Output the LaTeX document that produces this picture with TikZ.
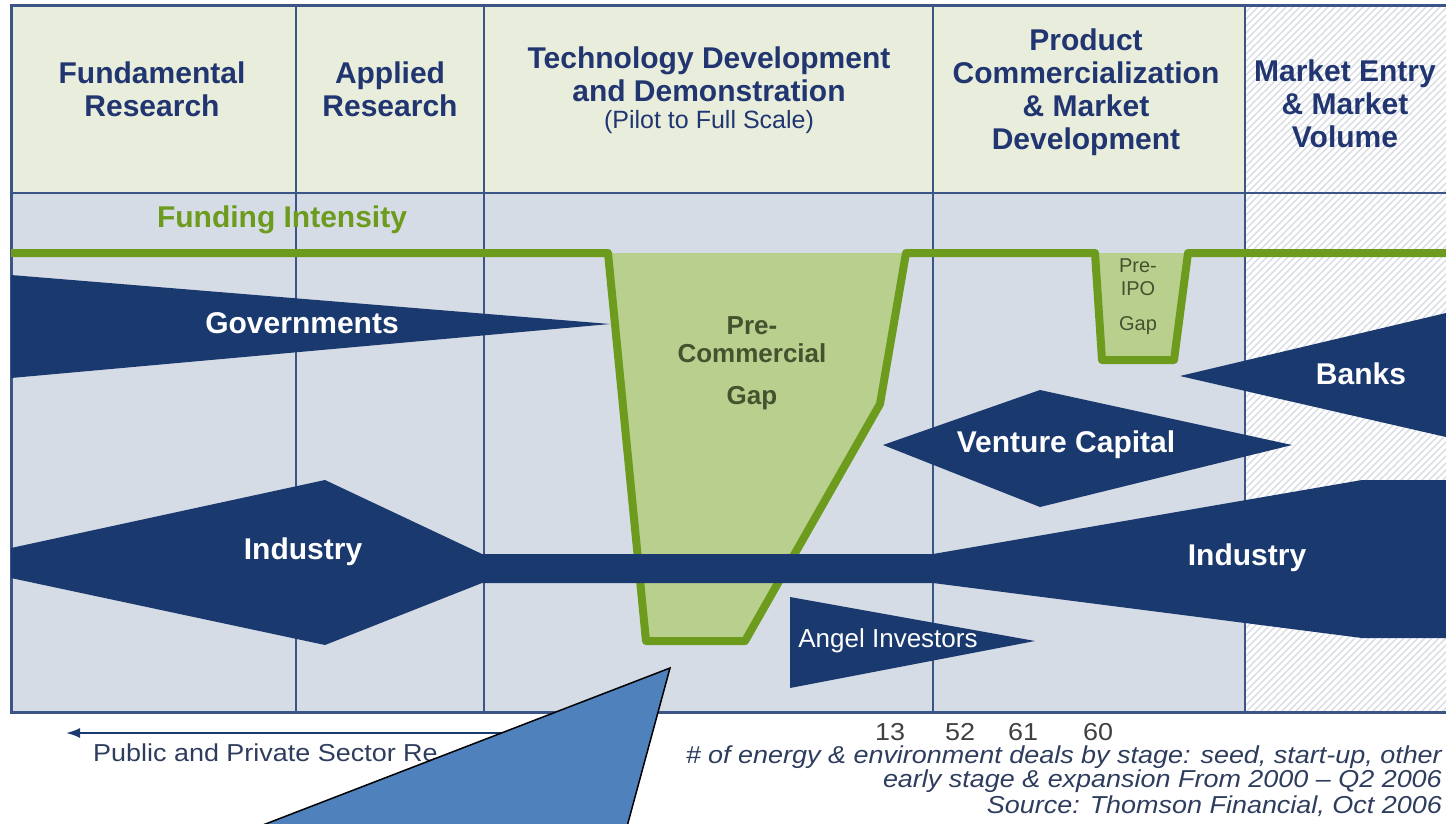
\documentclass[tikz,border=0pt]{standalone}
\usepackage{fontspec}
\setmainfont{Liberation Sans}
\newfontfamily\widefont[FakeStretch=1.1]{Liberation Sans}
\usetikzlibrary{arrows.meta}

\definecolor{headbg}{HTML}{E9EDDB}
\definecolor{bodybg}{HTML}{D6DCE6}
\definecolor{gridblue}{HTML}{3B5686}
\definecolor{navy}{HTML}{1A396E}
\definecolor{gapgreen}{HTML}{6C9B1E}
\definecolor{gapfill}{HTML}{B9CF8E}
\definecolor{gaptext}{HTML}{44522E}
\definecolor{headtext}{HTML}{213670}
\definecolor{foottext}{HTML}{2E3D5E}
\definecolor{callout}{HTML}{4F81BD}
\definecolor{hatch}{HTML}{D5D9E0}

\begin{document}
\begin{tikzpicture}[x=1pt, y=-1pt,
    divider/.style={gridblue, line width=2pt},
    head/.style={text=headtext, align=center, font=\fontsize{30}{33}\selectfont\bfseries},
    flowlabel/.style={text=white, font=\fontsize{30}{33}\selectfont\bfseries},
    gaplabel/.style={text=gaptext, align=center},
    bottomtext/.style={text=foottext, inner sep=0pt, font=\widefont\fontsize{24.5}{26}\selectfont},
    footnote/.style={bottomtext, anchor=east, font=\widefont\fontsize{24.5}{26}\selectfont\itshape}]
  \useasboundingbox (0,0) rectangle (1446,823);
  % backgrounds
  \fill[headbg] (11,5) rectangle (1245,193);
  \fill[bodybg] (11,193) rectangle (1245,712);
  \begin{scope}
    \clip (1245,5) rectangle (1446,712);
    \fill[white] (1245,5) rectangle (1446,712);
    \foreach \k in {525,532,...,1446}
      \draw[hatch, line width=1.2pt] (\k,712) -- ++(720,-720);
  \end{scope}
  % grid
  \foreach \xx in {296,484,933,1245}
    \draw[divider] (\xx,5) -- (\xx,712);
  \draw[divider] (11,193) -- (1446,193);
  \draw[gridblue, line width=3pt] (1446,5) -- (11,5) -- (11,712) -- (1446,712);
  % stage headings
  \node[head] (fund) at (152,89) {Fundamental\\Research};
  \node[head] (applied) at (390,89) {Applied\\Research};
  \node[head] (techdev) at (709,74) {Technology Development\\and Demonstration};
  \node[text=headtext, font=\fontsize{25}{28}\selectfont] (pilot) at (709,122) {(Pilot to Full Scale)};
  \node[head] (product) at (1086,92) {Product\\Commercialization\\\& Market\\Development};
  \node[head] (market) at (1345,104) {Market Entry\\\& Market\\Volume};
  \node[text=gapgreen, font=\fontsize{30}{33}\selectfont\bfseries] (intensity) at (282,220) {Funding Intensity};
  % funding gaps
  \fill[gapfill] (608,253) -- (646,641) -- (745,641) -- (880,404) -- (906,253) -- cycle;
  \fill[gapfill] (1095,253) -- (1102,360) -- (1174,360) -- (1188,253) -- cycle;
  \draw[gapgreen, line width=8pt, line join=round] (11,253) -- (608,253) -- (646,641) -- (745,641)
    -- (880,404) -- (906,253) -- (1095,253) -- (1102,360) -- (1174,360) -- (1188,253) -- (1446,253);
  % money flows
  \fill[navy] (11,275) -- (610,324) -- (11,378) -- cycle;
  \fill[navy] (11,548) -- (325,480) -- (482,554) -- (933,554) -- (1362,480) -- (1446,480) -- (1446,638)
    -- (1362,638) -- (933,583) -- (482,583) -- (325,645) -- (11,578) -- cycle;
  \fill[navy] (883,445) -- (1040,390) -- (1292,445) -- (1040,507) -- cycle;
  \fill[navy] (1180,376) -- (1446,313) -- (1446,437) -- cycle;
  \fill[navy] (790,597) -- (1035,641) -- (790,688) -- cycle;
  \node[flowlabel] (gov) at (302,323) {Governments};
  \node[flowlabel] (indleft) at (303,552) {Industry};
  \node[flowlabel] (indright) at (1247,558) {Industry};
  \node[flowlabel] (vc) at (1066,445) {Venture Capital};
  \node[flowlabel] (banks) at (1361,374) {Banks};
  \node[text=white, font=\fontsize{26}{28}\selectfont] (angel) at (888,641) {Angel Investors};
  \node[gaplabel, font=\fontsize{26}{28}\selectfont\bfseries] (precom) at (752,363) {Pre-\\Commercial\\[14pt]Gap};
  \node[gaplabel, font=\fontsize{20}{23}\selectfont] (preipo) at (1138,297) {Pre-\\IPO\\[12pt]Gap};
  % below the chart
  \coordinate (arrowfrom) at (520,733);
  \coordinate (arrowto) at (66,733);
  \draw[navy, line width=2pt, -{Latex[length=14pt, width=10pt]}] (arrowfrom) -- (arrowto);
  \node[bottomtext, anchor=west] (sector) at (93,753) {Public and Private Sector Re};
  \foreach \n/\xx in {13/890, 52/960, 61/1023, 60/1098}
    \node[bottomtext, text=black!75] (deals\n) at (\xx,732) {\n};
  \node[footnote] (note1) at (1442,757) {\# of energy \& environment deals by stage: seed, start-up, other};
  \node[footnote] (note2) at (1442,781) {early stage \& expansion From 2000 – Q2 2006};
  \node[footnote] (note3) at (1442,806) {Source: Thomson Financial, Oct 2006};
  % callout
  \filldraw[fill=callout, draw=black, line width=1.5pt] (670,668) -- (211,845) -- (622,845) -- cycle;
\end{tikzpicture}
\end{document}
